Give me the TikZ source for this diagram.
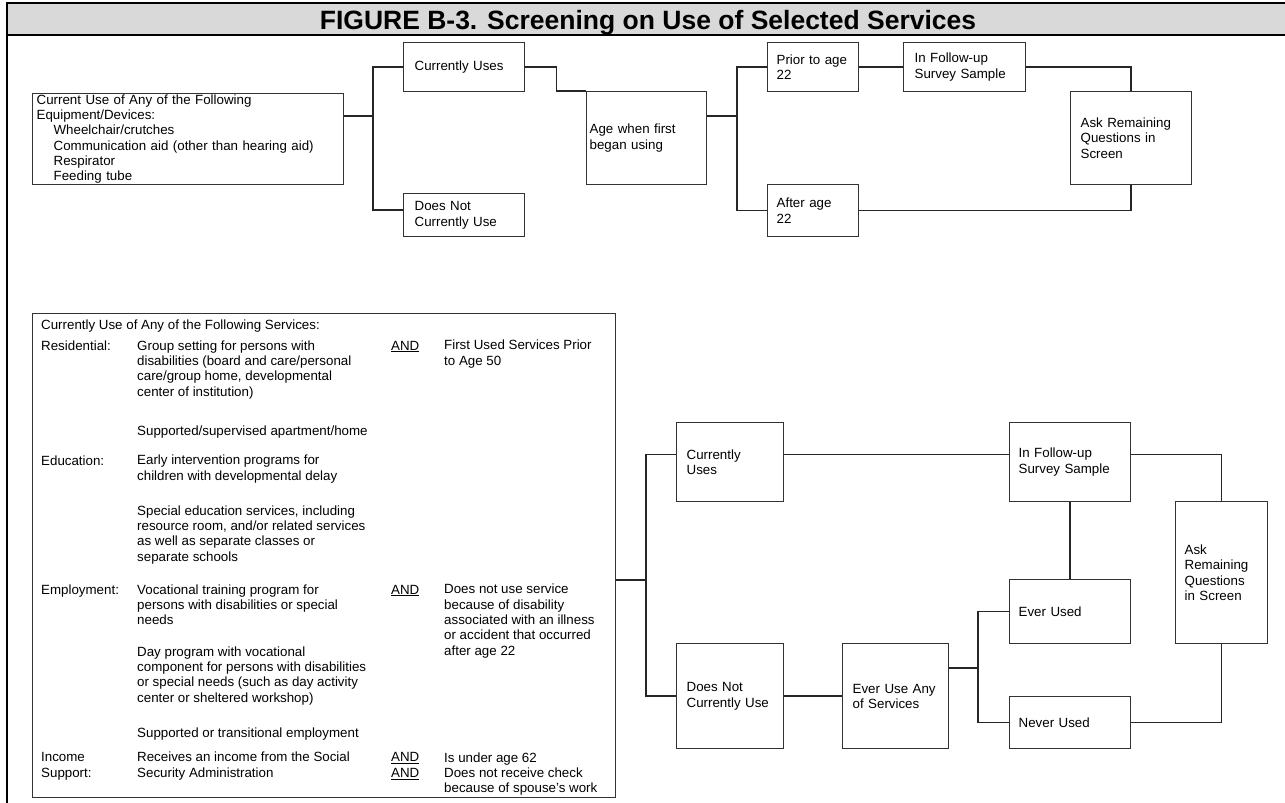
\documentclass[tikz,border=0pt]{standalone}
\usepackage{fontspec}
\setmainfont{Liberation Sans}
\usepackage{tikz}
\newcommand{\txtsize}{\fontsize{13.33pt}{15.33pt}\selectfont}
\newcommand{\ttlsize}{\fontsize{26.5pt}{30pt}\selectfont\bfseries}
\tikzset{
  box/.style={draw=black!80, line width=1.3pt, fill=white, anchor=north west, align=left, inner ysep=0pt, font=\txtsize},
  wire/.style={black!85, line width=1.4pt},
  txt/.style={anchor=base west, align=left, inner sep=0pt, font=\txtsize},
}
\begin{document}
\begin{tikzpicture}[x=1pt,y=-1pt]
\useasboundingbox (0,0) rectangle (1285,803);
\fill[black!15] (7,3) rectangle (1285,35);
\draw[line width=2.5pt] (1285,3) -- (7,3) -- (7,803);
\draw[line width=2.5pt] (7,35) -- (1285,35);
\node[font=\ttlsize, anchor=base] (ttl) at (648,29) {FIGURE B-3. Screening on Use of Selected Services};

\node[box, text width=303pt, inner xsep=4pt, minimum height=91pt] (tl) at (32,93) {Current Use of Any of the Following\\Equipment/Devices:\\\hspace*{17pt}Wheelchair/crutches\\\hspace*{17pt}Communication aid (other than hearing aid)\\\hspace*{17pt}Respirator\\\hspace*{17pt}Feeding tube};
\node[box, text width=99pt, inner xsep=11pt, minimum height=49pt] (cu) at (403,42) {Currently Uses};
\node[box, text width=99pt, inner xsep=11pt, minimum height=43pt] (dn) at (403,193) {Does Not\\Currently Use};
\node[box, text width=114pt, inner xsep=3pt, minimum height=93pt] (age) at (586,91) {Age when first\\began using};
\node[box, text width=73pt, inner xsep=9pt, minimum height=49pt] (prior) at (767,42) {Prior to age\\22};
\node[box, text width=73pt, inner xsep=9pt, minimum height=52pt] (after) at (767,184) {After age\\22};
\node[box, text width=100pt, inner xsep=11pt, minimum height=49pt] (fu) at (903,42) {In Follow-up\\Survey Sample};
\node[box, text width=101pt, inner xsep=10pt, minimum height=93pt] (ask) at (1070,91) {Ask Remaining\\Questions in\\Screen};

\coordinate (j1) at (373,116);
\coordinate (j2) at (737,116);
\draw[wire] (tl.east |- j1) -- (j1);
\draw[wire] (cu.west) -| (j1) |- ([yshift=5pt]dn.west);
\draw[wire] (cu.east) -- ++(31,0) |- (age.north west);
\draw[wire] (age.east |- j2) -- (j2);
\draw[wire] (prior.west) -| (j2) |- (after.west);
\draw[wire] (prior.east) -- (fu.west);
\draw[wire] (fu.east) -| (ask.north);
\draw[wire] (after.east) -| (ask.south);

% text blocks sit on the baseline of their last line
\node[draw=black!80, line width=1.3pt, anchor=north west, minimum width=583pt, minimum height=484pt, inner sep=0pt] (svc) at (32,313) {};
\node[txt] (hdr) at (41,329) {Currently Use of Any of the Following Services:};
\node[txt] (lres) at (41,350) {Residential:};
\node[txt] (dres) at (137,396) {Group setting for persons with\\disabilities (board and care/personal\\care/group home, developmental\\center of institution)};
\node[txt] (and1) at (391,350) {\underline{AND}};
\node[txt] (rres) at (444,365.3) {First Used Services Prior\\to Age 50};
\node[txt] (dsup) at (137,435) {Supported/supervised apartment/home};
\node[txt] (ledu) at (41,465) {Education:};
\node[txt] (dedu) at (137,480.3) {Early intervention programs for\\children with developmental delay};
\node[txt] (dspe) at (137,561) {Special education services, including\\resource room, and/or related services\\as well as separate classes or\\separate schools};
\node[txt] (lemp) at (41,594) {Employment:};
\node[txt] (demp) at (137,624.7) {Vocational training program for\\persons with disabilities or special\\needs};
\node[txt] (and2) at (391,594) {\underline{AND}};
\node[txt] (remp) at (444,655.3) {Does not use service\\because of disability\\associated with an illness\\or accident that occurred\\after age 22};
\node[txt] (dday) at (137,702) {Day program with vocational\\component for persons with disabilities\\or special needs (such as day activity\\center or sheltered workshop)};
\node[txt] (dtra) at (137,737) {Supported or transitional employment};
\node[txt] (linc) at (41,777.3) {Income\\Support:};
\node[txt] (dinc) at (137,777.3) {Receives an income from the Social\\Security Administration};
\node[txt] (and3) at (391,777.3) {\underline{AND}\\\underline{AND}};
\node[txt] (rinc) at (444,792.7) {Is under age 62\\Does not receive check\\because of spouse's work};

\node[box, text width=87pt, inner xsep=10pt, minimum height=79pt] (cu2) at (676,422) {Currently\\Uses};
\node[box, text width=87pt, inner xsep=10pt, minimum height=105pt] (dn2) at (676,643) {Does Not\\Currently Use};
\node[box, text width=86pt, inner xsep=10pt, minimum height=105pt] (eua) at (842,643) {Ever Use Any\\of Services};
\node[box, text width=103pt, inner xsep=9pt, minimum height=79pt] (fu2) at (1009,422) {In Follow-up\\Survey Sample};
\node[box, text width=103pt, inner xsep=9pt, minimum height=64pt] (ever) at (1009,579) {Ever Used};
\node[box, text width=103pt, inner xsep=9pt, minimum height=52pt] (never) at (1009,696) {Never Used};
\node[box, text width=74pt, inner xsep=9pt, minimum height=142pt] (ask2) at (1175,501) {Ask\\Remaining\\Questions\\in Screen};

\coordinate (j3) at (646,580);
\coordinate (j4) at (978,668);
\draw[wire] (svc.east |- j3) -- (j3);
\draw[wire] ([yshift=7.5pt]cu2.west) -| (j3) |- (dn2.west);
\draw[wire] ([yshift=7.5pt]cu2.east) -- ([yshift=7.5pt]fu2.west);
\draw[wire] ([yshift=7.5pt]fu2.east) -| (ask2.north);
\draw[wire] (dn2.east) -- (eua.west);
\draw[wire] (eua.east |- j4) -- (j4);
\draw[wire] (ever.west) -| (j4) |- (never.west);
\draw[wire] (fu2.south) -- (ever.north);
\draw[wire] (never.east) -| (ask2.south);
\end{tikzpicture}
\end{document}
